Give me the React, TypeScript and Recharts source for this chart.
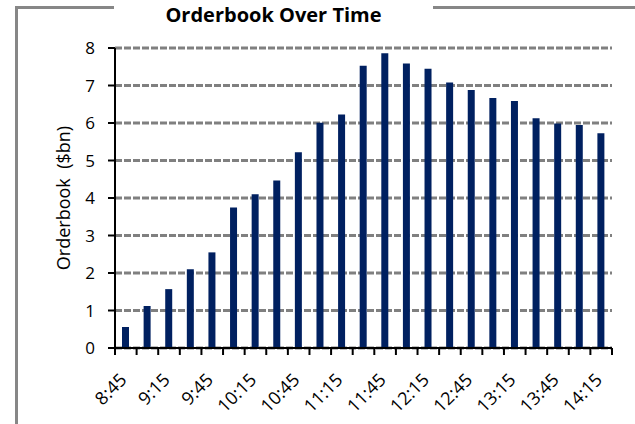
import { BarChart, Bar, XAxis, YAxis, CartesianGrid } from 'recharts';

const times = [
    '8:45', '9:00', '9:15', '9:30', '9:45', '10:00', '10:15', '10:30', '10:45', '11:00', '11:15', '11:30',
    '11:45', '12:00', '12:15', '12:30', '12:45', '13:00', '13:15', '13:30', '13:45', '14:00', '14:15',
];

const orderbook = [
    0.56, 1.12, 1.57, 2.1, 2.55, 3.75, 4.1, 4.47, 5.22, 6.01, 6.23, 7.53,
    7.86, 7.59, 7.45, 7.08, 6.88, 6.67, 6.59, 6.13, 5.99, 5.95, 5.73,
];

const yTicks = [0, 1, 2, 3, 4, 5, 6, 7, 8];

const data = times.map((t, i) => ({ time: t, value: orderbook[i] }));

const W = 635;
const H = 424;
const LEFT = 115;
const RIGHT = 23;
const STEP = (W - LEFT - RIGHT) / times.length;
const FONT = '"Open Sans", "Noto Sans", sans-serif';

// boundary tick marks + every other label, rotated like the original
const XTick = (props: any) => {
    const { x, y, payload } = props;
    const index = props.index ?? payload.index;
    const last = index === times.length - 1;
    const lx = x + 2;
    const ly = y + 33;
    return (
        <g>
            <line x1={x - STEP / 2} x2={x - STEP / 2} y1={y} y2={y + 7} stroke="#000" strokeWidth={2} />
            {last && <line x1={x + STEP / 2} x2={x + STEP / 2} y1={y} y2={y + 7} stroke="#000" strokeWidth={2} />}
            {index % 2 === 0 && (
                <text
                    x={lx}
                    y={ly}
                    textAnchor="end"
                    transform={`rotate(-45, ${lx}, ${ly})`}
                    fontSize={18}
                    fontFamily={FONT}
                    fill="#000"
                >
                    {payload.value}
                </text>
            )}
        </g>
    );
};

const YLabel = (props: any) => {
    const { viewBox } = props;
    const cy = viewBox.y + viewBox.height / 2;
    return (
        <text
            x={63}
            y={cy}
            textAnchor="middle"
            dominantBaseline="central"
            transform={`rotate(-90, 63, ${cy})`}
            fontSize={18}
            fontFamily={FONT}
            fill="#000"
        >
            {'Orderbook\u00a0\u00a0($bn)'}
        </text>
    );
};

export default function App() {
    return (
        <div style={{ position: 'absolute', left: 0, top: 0, width: W, height: H, background: '#fff', fontFamily: FONT }}>
            <div style={{ position: 'absolute', left: 15, top: 6, width: 99, height: 3, background: '#878787' }} />
            <div style={{ position: 'absolute', left: 15, top: 6, width: 3, height: H - 6, background: '#878787' }} />
            <div style={{ position: 'absolute', left: 433, top: 6, width: W - 433, height: 3, background: '#878787' }} />
            <div
                style={{
                    position: 'absolute',
                    left: 0,
                    top: 0,
                    width: W,
                    textAlign: 'center',
                    fontSize: 20,
                    fontWeight: 700,
                    lineHeight: '30px',
                    color: '#000',
                    marginLeft: -44,
                }}
            >
                Orderbook Over Time
            </div>
            <div style={{ position: 'absolute', left: 0, top: 0 }}>
                <BarChart width={W} height={H} data={data} margin={{ top: 48, right: RIGHT, bottom: 0, left: 0 }}>
                    <CartesianGrid vertical={false} stroke="#808080" strokeWidth={3} strokeDasharray="7 2" />
                    <XAxis
                        dataKey="time"
                        interval={0}
                        height={H - 348}
                        tickLine={false}
                        tickSize={0}
                        tickMargin={0}
                        axisLine={{ stroke: '#000', strokeWidth: 2 }}
                        tick={<XTick />}
                    />
                    <YAxis
                        width={LEFT}
                        domain={[0, 8]}
                        ticks={yTicks}
                        interval={0}
                        tickSize={7}
                        tickMargin={13}
                        axisLine={{ stroke: '#000', strokeWidth: 2 }}
                        tickLine={{ stroke: '#000', strokeWidth: 2 }}
                        tick={{ fontSize: 17, fontFamily: FONT, fill: '#000' }}
                        label={<YLabel />}
                    />
                    <Bar dataKey="value" fill="#002060" barSize={7} isAnimationActive={false} />
                </BarChart>
            </div>
        </div>
    );
}
